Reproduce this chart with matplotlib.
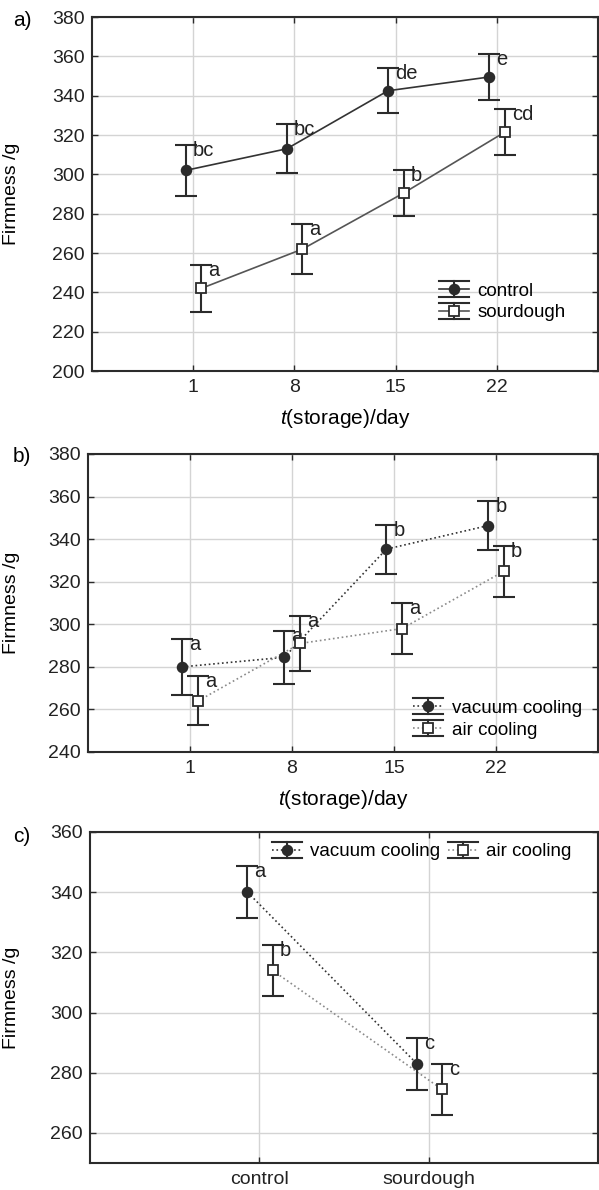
import numpy as np
import matplotlib.pyplot as plt
from matplotlib.lines import Line2D
from matplotlib.legend_handler import HandlerBase

plt.rcParams['font.family'] = ['Liberation Sans', 'DejaVu Sans']
plt.rcParams['mathtext.fontset'] = 'custom'
plt.rcParams['mathtext.it'] = 'Liberation Sans:italic'
plt.rcParams['mathtext.rm'] = 'Liberation Sans'

# panel a: storage time, control vs sourdough
days = ['1', '8', '15', '22']
a_control = [302, 313, 342.5, 349.5]
a_control_err = [13, 12.5, 11.5, 11.5]
a_control_lab = ['bc', 'bc', 'de', 'e']
a_sour = [242, 262, 290.5, 321.5]
a_sour_err = [12, 12.5, 11.5, 11.5]
a_sour_lab = ['a', 'a', 'b', 'cd']

# panel b: storage time, vacuum vs air cooling
b_vac = [280, 284.5, 335.3, 346.4]
b_vac_err = [13, 12.5, 11.5, 11.5]
b_vac_lab = ['a', 'a', 'b', 'b']
b_air = [264, 291, 298, 325]
b_air_err = [11.5, 13, 12, 12]
b_air_lab = ['a', 'a', 'a', 'b']

# panel c: bread type, vacuum vs air cooling
bread = ['control', 'sourdough']
c_vac = [340, 283]
c_vac_err = [8.7, 8.6]
c_vac_lab = ['a', 'c']
c_air = [314, 274.5]
c_air_err = [8.5, 8.5]
c_air_lab = ['b', 'c']

FS = 14
DARK = '#2b2b2b'

fig = plt.figure(figsize=(5.99, 11.9), dpi=100)
ax_a = fig.add_axes([92/599, 1-371/1190, 506/599, 354/1190])
ax_b = fig.add_axes([88/599, 1-752/1190, 510/599, 298/1190])
ax_c = fig.add_axes([90/599, 1-1163/1190, 508/599, 331/1190])


def series(ax, xs, ys, errs, labels, marker, mfc, ls, lcolor):
    ax.plot(xs, ys, ls=ls, color=lcolor, lw=1.2, zorder=2)
    ax.errorbar(xs, ys, yerr=errs, fmt='none', ecolor=DARK, elinewidth=1.5,
                capsize=8, capthick=1.5, zorder=3)
    ax.plot(xs, ys, ls='none', marker=marker, ms=7, mfc=mfc, mec=DARK,
            mew=1.3, zorder=4)
    for x, y, e, t in zip(xs, ys, errs, labels):
        ax.annotate(t, (x, y + e), xytext=(7, -11), textcoords='offset pixels',
                    ha='left', va='baseline', fontsize=14.5, color='#222222')


def proxy(ax, marker, mfc, ls, lcolor):
    line, = ax.plot([], [], ls=ls, color=lcolor, lw=1.2, marker=marker, ms=7,
                    mfc=mfc, mec=DARK, mew=1.3)
    return line


def style(ax):
    ax.grid(True, color='#d4d4d4', lw=1)
    ax.set_axisbelow(True)
    for s in ax.spines.values():
        s.set_linewidth(1.5)
        s.set_color(DARK)
    ax.tick_params(direction='in', length=4, width=1, colors=DARK,
                   labelcolor='#222222', labelsize=FS, top=True, right=True,
                   pad=6)
    ax.tick_params(axis='y', pad=5)


class ErrHandle(HandlerBase):
    # legend key: marker on its line, wide caps above and below
    def create_artists(self, legend, orig, xd, yd, w, h, fs, trans):
        cy = h / 2 - yd
        d = h * 0.6
        arts = []
        for dy in (-d, d):
            arts.append(Line2D([-xd, -xd + w], [cy + dy, cy + dy], color=DARK, lw=1.5, transform=trans))
        arts.append(Line2D([-xd + w / 2] * 2, [cy - d, cy + d], color=DARK, lw=1.5, transform=trans))
        arts.append(Line2D([-xd, -xd + w], [cy, cy], ls=orig.get_linestyle(), color=orig.get_color(), lw=1.2, transform=trans))
        arts.append(Line2D([-xd + w / 2], [cy], marker=orig.get_marker(), ms=7, mfc=orig.get_markerfacecolor(),
                           mec=DARK, mew=1.3, ls='none', transform=trans))
        return arts


leg_kw = dict(frameon=False, fontsize=13.5, handlelength=1.6, handletextpad=0.45,
              labelspacing=0.25, handler_map={Line2D: ErrHandle()})

# panel a
xa = np.arange(1, len(days) + 1)
series(ax_a, xa - 0.075, a_control, a_control_err, a_control_lab, 'o', DARK, '-', '#333333')
series(ax_a, xa + 0.08, a_sour, a_sour_err, a_sour_lab, 's', 'white', '-', '#555555')
ax_a.set_xlim(0, 5)
ax_a.set_ylim(200, 380)
ax_a.set_yticks(np.arange(200, 381, 20))
ax_a.set_xticks(xa)
ax_a.set_xticklabels(days)
ax_a.set_xlabel(r'$t$(storage)/day', fontsize=15, labelpad=8)
ax_a.set_ylabel('Firmness /g', fontsize=FS)
ax_a.yaxis.set_label_coords(-0.142, 0.5)
style(ax_a)
h1 = proxy(ax_a, 'o', DARK, '-', '#333333')
h2 = proxy(ax_a, 's', 'white', '-', '#555555')
ax_a.legend([h1, h2], ['control', 'sourdough'], loc='center left',
            bbox_to_anchor=(0.652, 0.195), **leg_kw)

# panel b
xb = np.arange(1, len(days) + 1)
series(ax_b, xb - 0.075, b_vac, b_vac_err, b_vac_lab, 'o', DARK, ':', '#333333')
series(ax_b, xb + 0.08, b_air, b_air_err, b_air_lab, 's', 'white', ':', '#8a8a8a')
ax_b.set_xlim(0, 5)
ax_b.set_ylim(240, 380)
ax_b.set_yticks(np.arange(240, 381, 20))
ax_b.set_xticks(xb)
ax_b.set_xticklabels(days)
ax_b.set_xlabel(r'$t$(storage)/day', fontsize=15, labelpad=8)
ax_b.set_ylabel('Firmness /g', fontsize=FS)
ax_b.yaxis.set_label_coords(-0.133, 0.5)
style(ax_b)
h1 = proxy(ax_b, 'o', DARK, ':', '#333333')
h2 = proxy(ax_b, 's', 'white', ':', '#8a8a8a')
ax_b.legend([h1, h2], ['vacuum cooling', 'air cooling'], loc='center left',
            bbox_to_anchor=(0.605, 0.11), **leg_kw)

# panel c
xc = np.arange(1, len(bread) + 1)
series(ax_c, xc - 0.07, c_vac, c_vac_err, c_vac_lab, 'o', DARK, ':', '#333333')
series(ax_c, xc + 0.078, c_air, c_air_err, c_air_lab, 's', 'white', ':', '#8a8a8a')
ax_c.set_xlim(0, 3)
ax_c.set_ylim(250, 360)
ax_c.set_yticks(np.arange(260, 361, 20))
ax_c.set_xticks(xc)
ax_c.set_xticklabels(bread)
ax_c.set_ylabel('Firmness /g', fontsize=FS)
ax_c.yaxis.set_label_coords(-0.138, 0.5)
style(ax_c)
h1 = proxy(ax_c, 'o', DARK, ':', '#333333')
h2 = proxy(ax_c, 's', 'white', ':', '#8a8a8a')
ax_c.legend([h1, h2], ['vacuum cooling', 'air cooling'], loc='center left',
            bbox_to_anchor=(0.325, 0.94), ncol=2, columnspacing=0.4, **leg_kw)

# panel letters
fig.text(13/599, 1-21/1190, 'a)', fontsize=FS + 1, va='center', ha='left')
fig.text(13/599, 1-457/1190, 'b)', fontsize=FS + 1, va='center', ha='left')
fig.text(13/599, 1-837/1190, 'c)', fontsize=FS + 1, va='center', ha='left')

fig.savefig('out.png', dpi=100)
